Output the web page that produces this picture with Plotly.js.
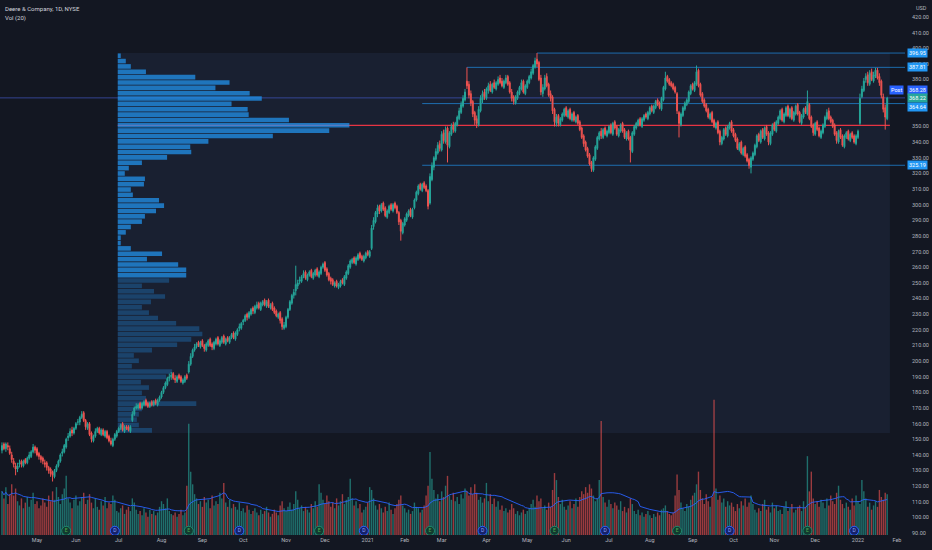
<!DOCTYPE html>
<html><head><meta charset="utf-8">
<script src="https://cdn.plot.ly/plotly-3.0.1.min.js"></script>
<style>html,body{margin:0;padding:0;background:#131722;}#chart{width:932px;height:550px;}</style>
</head><body><div id="chart"></div>
<script>
// Deere & Company daily candles, 2020-04-06 .. 2022-01-25 (trading-day index)
const dayOpen = [
143,147,144,146,144,140,136,133,131,134, 136,133,137,135,138,139,142,145,144,141,
139,138,135,135,132,131,129,126,130,133, 136,141,142,145,151,152,156,154,157,161,
161,164,167,162,157,160,154,149,152,155, 157,153,156,152,155,152,149,146,150,152,
155,157,160,155,158,158,155,162,166,170, 170,173,170,172,175,173,171,174,172,175,
172,175,177,180,183,185,189,190,192,189, 187,191,190,186,187,191,193,198,203,207,
209,212,209,213,210,207,210,214,211,208, 211,215,210,212,216,211,215,212,215,218,
214,217,221,221,225,226,230,228,230,234, 231,234,237,233,236,239,235,239,234,237,
234,232,228,231,227,221,222,228,233,237, 242,245,248,251,251,254,257,252,255,258,
253,255,259,254,256,260,263,259,256,253, 252,248,251,247,248,252,249,253,256,260,
263,266,262,265,269,267,264,266,270,267, 272,286,289,294,299,296,301,298,292,295,
300,296,301,299,295,290,282,287,290,293, 297,292,298,303,307,313,309,314,312,309,
301,316,324,329,333,339,335,346,340,349, 337,345,351,347,351,355,359,363,367,379,
377,371,366,359,355,351,360,367,372,368, 373,377,372,378,374,377,381,379,375,378,
382,378,372,369,365,368,371,374,379,371, 375,378,381,384,388,393,391,381,371,374,
382,377,371,369,361,352,357,351,354,357, 362,356,361,354,359,353,357,353,349,344,
340,336,332,327,322,329,336,342,347,343, 349,344,346,351,345,353,350,344,347,352,
348,342,347,343,334,345,349,351,355,350, 354,358,355,358,363,359,362,367,365,361,
367,374,382,380,378,377,375,371,359,351, 357,361,364,366,371,377,373,377,386,377,
371,367,364,361,355,359,354,349,353,347, 339,342,349,344,349,353,348,345,342,335,
340,332,337,332,329,324,329,332,337,345, 340,348,342,350,346,339,345,352,347,352,
355,361,353,357,363,356,362,354,358,364, 359,352,356,362,358,364,356,351,345,353,
349,343,346,350,355,360,356,354,351,346, 340,348,344,337,343,347,341,346,344,339,
343,352,369,373,380,383,377,385,379,382, 386,382,379,369,362,355];
const dayHigh = [
148,148,148,148,146,142,138,135,135,137, 137,137,138,139,142,143,147,146,145,142,
140,139,137,136,133,132,130,131,134,137, 141,144,147,151,154,157,158,158,161,163,
165,168,168,163,161,161,155,153,157,158, 158,157,157,156,156,153,151,151,154,156,
158,160,161,159,159,159,159,168,171,173, 173,174,174,175,176,174,174,175,175,176,
176,178,181,184,187,190,192,193,193,191, 191,192,191,189,191,192,200,205,208,211,
212,213,213,214,211,212,214,215,212,213, 215,216,214,216,217,215,216,216,218,219,
219,221,224,225,227,230,231,232,234,235, 236,238,238,238,239,240,239,240,237,238,
235,233,231,232,228,225,229,234,239,243, 246,261,252,254,255,258,258,256,258,259,
257,259,260,258,261,263,264,260,257,254, 253,251,252,250,252,253,255,258,262,265,
266,267,267,269,270,268,268,270,271,271, 287,292,296,300,300,301,302,299,297,300,
301,301,302,300,296,291,289,292,295,297, 298,298,304,309,313,314,314,315,313,310,
320,327,331,336,340,341,347,348,350,350, 347,352,353,353,357,362,366,370,374,387.81,
379,373,367,360,357,363,370,373,374,375, 378,379,378,380,379,382,383,381,380,383,
383,379,374,370,370,373,376,380,380,377, 380,383,387,390,394,396.95,392,383,377,383,
384,378,373,370,362,358,358,356,359,362, 363,361,362,359,360,357,358,354,350,345,
341,337,333,328,331,338,344,347,349,349, 350,348,351,352,353,354,351,349,352,353,
349,347,348,344,347,351,353,355,356,356, 358,359,360,363,364,364,367,368,366,369,
376,385,383,381,379,378,376,372,360,359, 363,366,368,373,377,378,379,389,387,378,
372,368,365,362,359,360,355,353,354,348, 344,349,350,351,353,354,349,346,343,340,
341,337,338,333,330,331,334,339,345,346, 348,349,350,351,347,347,352,353,354,357,
361,362,359,363,364,362,363,360,364,365, 360,358,362,363,373,365,357,352,353,354,
350,348,352,357,361,362,357,355,352,347, 348,349,345,345,347,348,346,347,345,345,
348,371,376,381,384,385,386,387,385,387.5, 387.5,384,380,371,364,369];
const dayLow = [
141,143,142,143,140,135,132,127,129,132, 132,132,134,134,137,138,141,141,139,137,
135,134,132,130,128,126,123,125,129,132, 135,139,141,144,149,151,152,153,156,159,
159,163,161,156,156,152,148,148,151,154, 153,152,152,151,150,148,146,145,149,151,
154,156,155,154,156,155,154,161,165,169, 169,169,169,171,171,170,170,171,171,172,
171,174,176,179,182,184,187,188,188,186, 186,188,186,185,186,188,192,197,202,206,
208,209,208,209,206,206,209,209,207,207, 210,210,209,211,211,210,212,211,214,214,
213,216,219,220,223,225,226,227,229,230, 230,233,233,232,235,235,234,234,233,232,
230,228,227,224,220,220,221,227,232,236, 240,242,246,249,250,253,252,251,254,253,
252,254,254,253,255,259,257,254,251,249, 248,247,247,246,247,249,248,252,255,259,
262,262,261,264,265,264,263,265,267,266, 271,284,288,292,294,295,296,292,291,294,
296,295,297,294,287,277,281,286,289,292, 292,291,297,302,306,309,308,310,308,297,
300,315,322,328,332,334,334,339,339,327, 336,344,346,346,350,354,358,362,366,374,
368,363,356,351,349,350,359,365,367,367, 371,372,371,374,373,376,377,375,374,377,
376,371,366,364,364,367,370,373,371,370, 374,377,380,383,387,388,379,370,369,373,
375,369,366,358,350,350,350,350,353,356, 356,355,354,353,353,352,351,347,342,337,
334,330,325,321,321,328,335,341,342,342, 344,343,345,345,344,348,344,343,346,346,
342,341,341,327,333,344,348,350,350,349, 353,355,354,357,359,358,361,363,361,360,
366,373,378,376,375,373,371,358,343,350, 356,360,363,365,370,373,372,376,375,369,
365,362,359,355,354,352,349,348,345,338, 338,341,344,343,348,346,343,340,335,334,
332,331,330,327,323,320,328,331,336,340, 339,342,341,344,338,338,344,347,346,351,
354,353,352,356,356,355,354,353,357,357, 352,351,355,358,357,354,349,344,344,347,
343,342,345,349,354,354,352,349,344,339, 339,342,337,336,342,341,340,342,339,338,
342,351,368,372,378,376,376,379,378,381, 380,376,368,359,348,354];
const dayClose = [
146,144,147,145,141,137,134,131,133,135, 134,136,135,138,140,142,145,143,140,139,
137,136,134,132,130,128,127,130,133,136, 140,142,146,150,152,155,154,157,160,161,
164,166,162,158,160,153,150,152,155,157, 154,156,153,155,151,149,147,150,153,155,
157,159,156,158,157,156,158,166,170,171, 172,170,173,174,172,171,173,172,174,173,
175,177,180,183,186,189,190,191,189,188, 190,189,187,188,190,189,198,203,207,209,
211,210,212,210,208,211,213,210,209,212, 214,211,213,215,212,214,213,215,217,215,
218,220,222,224,226,229,228,231,233,232, 235,236,234,237,238,236,238,235,236,233,
231,229,230,226,222,223,228,233,238,242, 244,249,250,252,254,256,253,255,257,254,
256,258,255,257,260,262,258,255,252,251, 249,250,248,249,251,250,254,257,261,264,
265,263,266,268,266,265,267,269,268,270, 285,290,295,298,296,300,297,293,296,299,
297,300,298,295,289,283,288,291,294,296, 293,297,303,308,312,310,313,311,309,299,
318,325,330,334,338,336,345,341,348,338, 346,350,348,352,356,360,364,368,372,376,
370,365,358,354,352,361,368,371,369,374, 376,373,377,375,378,380,378,376,379,381,
377,372,368,366,369,372,375,378,372,376, 379,382,385,389,392,390,380,372,375,381,
376,370,368,360,353,356,352,355,358,361, 357,360,355,358,354,356,352,348,343,339,
335,331,326,323,330,337,343,346,344,348, 345,347,350,346,352,349,345,348,351,347,
343,346,342,335,346,350,352,354,351,355, 357,356,359,362,360,363,366,364,362,368,
375,381,379,377,376,374,372,360,352,358, 362,365,367,372,376,374,378,385,376,370,
366,363,360,356,358,353,350,352,346,340, 343,348,345,350,352,347,344,341,336,339,
333,336,331,328,325,330,333,338,344,341, 347,343,349,345,340,346,351,348,353,356,
360,354,358,362,357,361,355,359,363,358, 353,357,361,359,366,355,350,346,352,348,
344,347,351,356,359,355,353,350,345,341, 347,343,338,344,346,342,345,343,340,344,
347,368,374,379,382,378,384,380,383,386, 381,378,370,361,356,368.22];
// daily volume, millions of shares
const dayVolume = [
3.1,2.6,3.4,2.2,2.9,3.6,2.8,3.3,2.4,2.1, 2.6,1.9,2.3,2.7,2.0,2.5,3.0,2.2,2.4,1.9,
2.1,2.6,2.3,2.0,2.8,2.4,3.1,2.5,3.4,2.7, 2.2,2.9,3.3,4.2,2.6,2.3,1.9,2.5,2.8,2.1,
2.4,2.7,3.0,2.2,2.5,2.9,2.3,1.9,2.6,2.0, 1.8,2.4,2.1,2.7,1.9,2.3,2.2,2.8,2.5,1.7,
1.6,1.9,2.1,1.5,1.8,2.0,1.7,2.6,2.3,1.8, 1.5,1.7,1.4,1.9,1.6,1.3,1.8,1.5,1.7,1.4,
1.6,2.0,2.4,2.2,1.9,2.6,1.7,1.5,1.4,1.6, 1.3,1.5,1.8,1.4,1.6,3.5,7.9,4.5,3.6,2.9,
2.6,2.2,2.4,2.0,2.7,2.3,2.5,1.9,2.8,2.1, 2.4,2.2,3.0,2.6,3.7,2.3,2.0,2.5,1.9,2.2,
2.0,1.8,2.3,1.7,1.9,1.6,2.1,1.8,1.5,1.7, 1.9,1.6,1.4,1.8,1.5,1.7,2.0,1.6,1.3,1.5,
1.8,1.6,1.4,2.1,2.4,1.9,1.7,2.0,2.3,1.8, 2.2,3.1,2.5,1.9,2.1,1.7,2.0,1.8,1.6,2.2,
1.9,2.4,2.0,3.6,3.0,2.5,2.2,2.8,2.4,2.0, 2.3,1.9,2.6,2.1,2.4,2.9,2.2,2.5,2.7,4.0,
2.6,2.1,2.4,1.9,2.2,1.6,1.8,2.0,2.3,3.4, 3.2,2.6,2.1,1.8,2.2,1.9,1.6,2.0,1.7,2.3,
1.8,1.5,1.9,2.2,2.5,2.8,2.1,1.9,1.6,1.8, 1.5,1.7,2.3,2.0,1.9,1.6,1.8,2.1,2.8,3.5,
5.9,4.0,3.2,2.6,2.9,2.4,3.1,2.7,3.5,4.2, 2.8,2.5,3.0,2.4,2.7,2.2,2.9,2.6,3.3,3.1,
2.8,3.4,2.9,3.6,3.0,2.5,2.7,2.3,2.6,3.7, 2.4,2.9,2.2,2.6,2.0,2.4,1.8,2.1,1.7,1.9,
1.6,1.8,2.2,1.9,1.5,1.7,1.4,1.6,1.8,1.5, 1.7,1.9,2.2,2.5,2.0,2.8,2.4,2.6,1.9,2.1,
1.8,2.3,2.0,3.2,4.4,3.9,2.7,2.2,2.5,2.0, 1.8,2.1,2.4,1.9,2.2,2.6,2.0,2.7,3.1,2.9,
3.4,3.0,3.6,3.3,2.8,2.4,2.6,3.9,8.1,2.7, 2.3,2.0,2.5,2.2,1.9,2.3,2.1,1.8,2.4,1.7,
2.0,1.6,1.9,2.6,2.2,1.7,1.5,1.8,1.4,1.6, 1.3,1.5,1.7,1.4,1.2,1.5,1.3,1.6,1.4,1.8,
1.9,2.1,1.7,1.5,1.4,1.6,2.8,4.3,3.2,2.3, 1.9,1.7,2.2,2.0,2.5,2.8,3.0,3.6,4.5,3.2,
2.6,2.2,2.9,2.4,2.0,2.7,9.6,3.3,2.5,2.8, 2.3,2.6,2.0,2.4,2.1,2.3,2.0,1.7,2.2,1.9,
2.4,2.1,2.6,2.0,2.3,2.8,2.2,1.8,1.6,1.9, 1.7,2.2,2.5,1.8,2.0,1.6,2.3,1.9,2.1,1.7,
1.8,1.5,2.0,2.4,1.7,1.9,2.2,1.6,1.8,2.0, 2.1,1.7,2.4,2.0,5.6,3.1,4.5,2.6,2.2,2.4,
2.0,2.5,2.3,1.9,2.6,2.1,2.8,2.4,2.2,3.0, 3.5,2.5,2.2,1.9,2.3,2.0,1.8,2.6,2.1,2.8,
2.4,2.2,3.9,3.1,2.6,2.0,2.3,1.8,2.1,2.4, 2.0,3.2,2.7,2.5,3.0,2.9];

const monthTickIdx  = [18,38,60,82,103,124,146,166,188,207,226,249,270,290,312,333,355,376,397,418,440,460];
const monthTickText = ['May','Jun','Jul','Aug','Sep','Oct','Nov','Dec','2021','Feb','Mar','Apr','May','Jun','Jul','Aug','Sep','Oct','Nov','Dec','2022','Feb'];

// price-scale tick labels (those hidden behind the price boxes in the reference are left out)
const priceTicks = [90,100,110,120,130,140,150,160,170,180,190,200,210,220,230,240,250,260,270,280,290,300,310,320,330,340,350,380,390,400,410,420,430];

const eventIdx  = [33,58,96,122,163,186,220,247,284,310,347,374,414,438];
const eventType = ['E','D','E','D','E','D','E','D','E','D','E','D','E','D'];

// Visible-range volume profile, rows listed from top price to bottom price
const profileVolTopDown = [3,8,13,28,77,111,97,131,143,113,129,130,170,230,210,154,90,72,73,49,
24,11,7,27,26,13,15,41,46,38,27,24,13,8,3,3,13,44,29,60,
68,68,51,24,36,47,33,24,31,40,58,81,84,73,59,34,16,21,14,54,
48,23,31,24,28,78,24,21,19,21,34];
const profileStartIdx = 60;

const levelPrices   = [396.95, 387.81, 364.64, 325.19];
const levelStartIdx = [275, 239, 216, 216];
const postPrice = 368.28;

const n = dayClose.length;
const idx = dayClose.map((_, i) => i);
const xRange = [-1.02, 464.16];

// volume SMA(20)
const volMA = dayVolume.map((_, i) => {
  const s = Math.max(0, i - 19); const w = dayVolume.slice(s, i + 1);
  return w.reduce((a, b) => a + b, 0) / w.length;
});
const up = idx.map(i => dayClose[i] >= dayOpen[i]);

// profile geometry
const prof = profileVolTopDown.slice().reverse();
const rows = prof.length;
const pLow = Math.min(...dayLow.slice(profileStartIdx));
const pHigh = Math.max(...dayHigh.slice(profileStartIdx));
const step = (pHigh - pLow) / rows;
const rowCenters = prof.map((_, k) => pLow + (k + 0.5) * step);
const maxV = Math.max(...prof);
const poc = prof.indexOf(maxV);
const total = prof.reduce((a, b) => a + b, 0);
let lo = poc, hi = poc, acc = prof[poc];
while (acc < 0.7 * total && (lo > 0 || hi < rows - 1)) {
  const u = hi < rows - 1 ? prof[hi + 1] : -1;
  const d = lo > 0 ? prof[lo - 1] : -1;
  if (u >= d) { hi++; acc += prof[hi]; } else { lo--; acc += prof[lo]; }
}
const profBase = profileStartIdx - 0.5;
const profRight = n - 1 + 1.4;
const profWidth = 0.30 * (profRight - profBase);
const profLen = prof.map(v => v / maxV * profWidth);
const profColors = prof.map((_, k) => (k >= lo && k <= hi) ? 'rgba(33,150,243,0.72)' : 'rgba(33,150,243,0.30)');

const traces = [
  { type: 'bar', x: idx, y: dayVolume, xaxis: 'x', yaxis: 'y', width: 0.72,
    marker: { color: idx.map(i => up[i] ? 'rgba(38,166,154,0.62)' : 'rgba(239,83,80,0.62)'), line: { width: 0 } },
    hoverinfo: 'skip' },
  { type: 'scatter', mode: 'lines', x: idx, y: volMA, xaxis: 'x', yaxis: 'y',
    line: { color: 'rgba(41,98,255,0.9)', width: 1 }, hoverinfo: 'skip' },
  { type: 'scatter', mode: 'markers+text', x: eventIdx, y: eventIdx.map(() => 0.3), xaxis: 'x', yaxis: 'y',
    text: eventType, textposition: 'middle center',
    textfont: { size: 5, color: eventType.map(t => t === 'E' ? '#4caf50' : '#90a4ff'), family: 'Roboto' },
    marker: { size: 9, symbol: 'circle',
      color: eventType.map(t => t === 'E' ? '#123a30' : '#16226a'),
      line: { width: 1, color: eventType.map(t => t === 'E' ? '#1e8c6e' : '#2962ff') } },
    hoverinfo: 'skip' },
  { type: 'bar', orientation: 'h', y: rowCenters, x: profLen, base: profBase, xaxis: 'x', yaxis: 'y2',
    width: step * 0.86, marker: { color: profColors, line: { width: 0 } }, hoverinfo: 'skip' },
  { type: 'candlestick', x: idx, open: dayOpen, high: dayHigh, low: dayLow, close: dayClose,
    xaxis: 'x', yaxis: 'y2', whiskerwidth: 0,
    increasing: { line: { color: '#26a69a', width: 1 }, fillcolor: '#26a69a' },
    decreasing: { line: { color: '#ef5350', width: 1 }, fillcolor: '#ef5350' },
    hoverinfo: 'skip' }
];

const shapes = [
  { type: 'rect', xref: 'x', yref: 'y2', x0: profBase, x1: profRight, y0: pLow, y1: pHigh,
    fillcolor: 'rgba(56,80,120,0.18)', line: { width: 0 }, layer: 'below' },
  { type: 'line', xref: 'x', yref: 'y2', x0: xRange[0], x1: xRange[1], y0: postPrice, y1: postPrice,
    line: { color: 'rgba(63,81,181,0.75)', width: 1 }, layer: 'below' },
  { type: 'line', xref: 'x', yref: 'y2', x0: profBase, x1: profRight, y0: rowCenters[poc], y1: rowCenters[poc],
    line: { color: 'rgba(242,54,69,0.95)', width: 1.3 }, layer: 'below' }
].concat(levelPrices.map((p, j) => ({
  type: 'line', xref: 'x', yref: 'y2', x0: levelStartIdx[j], x1: xRange[1], y0: p, y1: p,
  line: { color: 'rgba(33,150,243,0.65)', width: 1 }, layer: 'below' })));

const lab = (text, y, bg, yshift) => ({
  text: text, xref: 'paper', x: 1, xanchor: 'left', xshift: 2, yref: 'y2', y: y, yanchor: 'middle',
  yshift: yshift || 0, showarrow: false, bgcolor: bg, borderpad: 1,
  font: { size: 5.5, color: '#ffffff', family: 'Roboto' } });

const annotations = [
  { text: 'Deere &amp; Company, 1D, NYSE', xref: 'paper', yref: 'paper', x: 0, y: 1, xanchor: 'left', yanchor: 'top',
    xshift: 3, yshift: -3, showarrow: false, font: { size: 6, color: '#d1d4dc', family: 'Roboto' } },
  { text: 'Vol (20)', xref: 'paper', yref: 'paper', x: 0, y: 1, xanchor: 'left', yanchor: 'top',
    xshift: 3, yshift: -12, showarrow: false, font: { size: 6, color: '#d1d4dc', family: 'Roboto' } },
  { text: 'USD', xref: 'paper', yref: 'paper', x: 1, y: 1, xanchor: 'left', yanchor: 'top',
    xshift: 9, yshift: -3, showarrow: false, bgcolor: '#131722', font: { size: 5.5, color: '#b2b5be', family: 'Roboto' } },
  { text: 'Post', xref: 'paper', x: 1, xanchor: 'right', xshift: -1, yref: 'y2', y: postPrice, yshift: 8,
    showarrow: false, bgcolor: '#2962ff', borderpad: 1, font: { size: 5.5, color: '#ffffff', family: 'Roboto' } },
  lab(levelPrices[0].toFixed(2), levelPrices[0], '#2196f3'),
  lab(levelPrices[1].toFixed(2), levelPrices[1], '#2196f3'),
  lab(postPrice.toFixed(2), postPrice, '#2962ff', 8),
  lab(dayClose[n - 1].toFixed(2), dayClose[n - 1], '#26a69a', 0),
  lab(levelPrices[2].toFixed(2), levelPrices[2], '#2196f3', -3),
  lab(levelPrices[3].toFixed(2), levelPrices[3], '#2196f3')
];

const layout = {
  width: 932, height: 550, margin: { l: 0, r: 27, t: 0, b: 15 },
  paper_bgcolor: '#131722', plot_bgcolor: '#131722', showlegend: false,
  font: { family: 'Roboto, sans-serif', size: 6, color: '#b2b5be' },
  hovermode: false,
  xaxis: { range: xRange, tickvals: monthTickIdx, ticktext: monthTickText, showgrid: false, zeroline: false,
    showline: false, ticks: '', tickfont: { size: 5.5, color: '#b2b5be' }, rangeslider: { visible: false },
    fixedrange: true, tickangle: 0 },
  yaxis: { range: [0, 38], visible: false, showgrid: false, zeroline: false, fixedrange: true },
  yaxis2: { overlaying: 'y', side: 'right', range: [88.8, 430.87], tickmode: 'array', tickvals: priceTicks,
    ticktext: priceTicks.map(v => v.toFixed(2)),
    showgrid: false, zeroline: false, showline: false, ticks: '', ticklabelstandoff: 6,
    tickfont: { size: 5.5, color: '#b2b5be' }, fixedrange: true },
  shapes: shapes, annotations: annotations, barmode: 'overlay'
};

Plotly.newPlot('chart', traces, layout, { displayModeBar: false, staticPlot: true });
</script></body></html>
